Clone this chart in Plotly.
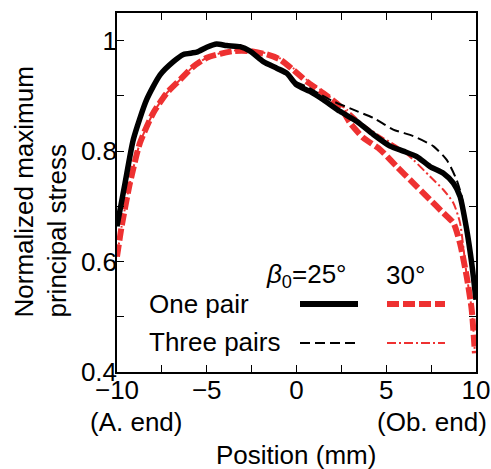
import plotly.graph_objects as go

# ---- data ----
x_one25 = [-10, -9.55, -9.09, -8.35, -7.6, -6.86, -6.3, -5.56, -5.0, -4.45, -3.89, -3.15, -2.59,
           -1.85, -1.1, -0.55, 0.0, 0.75, 1.49, 2.42, 3.35, 4.28, 5.21, 5.95, 6.7, 7.44, 8.18,
           8.74, 9.11, 9.48, 9.76, 10]
y_one25 = [0.664, 0.742, 0.821, 0.893, 0.938, 0.962, 0.975, 0.979, 0.988, 0.994, 0.991, 0.989, 0.981,
           0.962, 0.950, 0.941, 0.920, 0.908, 0.893, 0.872, 0.854, 0.830, 0.809, 0.800, 0.790, 0.772, 0.760,
           0.742, 0.718, 0.658, 0.597, 0.531]

x_three25 = [-10, -9.55, -9.09, -8.35, -7.6, -6.86, -6.3, -5.56, -5.0, -4.45, -3.89, -3.15, -2.59,
             -1.85, -1.1, -0.55, 0.0, 0.57, 1.3, 2.05, 3.16, 4.28, 5.39, 6.51, 7.62, 8.37, 8.92,
             9.2, 9.48, 9.76, 10]
y_three25 = [0.664, 0.742, 0.821, 0.893, 0.938, 0.962, 0.975, 0.979, 0.988, 0.994, 0.991, 0.989, 0.981,
             0.963, 0.952, 0.944, 0.925, 0.917, 0.903, 0.890, 0.875, 0.860, 0.839, 0.827, 0.809, 0.784, 0.748,
             0.718, 0.660, 0.598, 0.532]

x_one30 = [-10, -9.74, -9.28, -8.72, -7.98, -7.23, -6.49, -5.75, -5.0, -4.26, -3.52, -2.59, -1.66,
           -0.92, -0.18, 0.57, 1.49, 2.42, 2.98, 3.72, 4.65, 5.58, 6.51, 7.44, 8.18, 8.74, 9.11,
           9.48, 9.76, 9.94]
y_one30 = [0.609, 0.664, 0.742, 0.815, 0.869, 0.905, 0.929, 0.953, 0.969, 0.976, 0.981, 0.981, 0.975,
           0.966, 0.947, 0.926, 0.905, 0.881, 0.851, 0.824, 0.803, 0.772, 0.742, 0.712, 0.688, 0.670, 0.633,
           0.573, 0.513, 0.434]

x_three30 = [-10, -9.74, -9.28, -8.72, -7.98, -7.23, -6.49, -5.75, -5.0, -4.26, -3.52, -2.59, -1.66,
             -0.92, -0.18, 0.57, 1.49, 2.42, 2.8, 3.72, 4.65, 5.58, 6.51, 7.44, 8.18, 8.74, 9.11,
             9.48, 9.76, 9.94]
y_three30 = [0.609, 0.664, 0.742, 0.815, 0.869, 0.905, 0.929, 0.953, 0.969, 0.977, 0.982, 0.982, 0.977,
             0.968, 0.950, 0.929, 0.907, 0.884, 0.875, 0.848, 0.827, 0.809, 0.784, 0.754, 0.730, 0.706, 0.670,
             0.575, 0.514, 0.435]

x_tickvals = [-10, -5, 0, 5, 10]
x_ticktext = ["\u221210", "\u22125", "0", "5", "10"]
x_minor = [-7.5, -2.5, 2.5, 7.5]
y_tickvals = [0.4, 0.6, 0.8, 1.0]
y_ticktext = ["0.4", "0.6", "0.8", "1"]
y_minor = [0.5, 0.7, 0.9]

RED = "#EE3131"
FONT = "Liberation Sans, Arial, sans-serif"
FS = 26

fig = go.Figure()
fig.add_trace(go.Scatter(x=x_three30, y=y_three30, mode="lines",
                         line=dict(color=RED, width=2, dash="9px,3px,2px,3px", shape="spline", smoothing=0.6)))
fig.add_trace(go.Scatter(x=x_one30, y=y_one30, mode="lines",
                         line=dict(color=RED, width=6, dash="12px,4px", shape="spline", smoothing=0.6)))
fig.add_trace(go.Scatter(x=x_three25, y=y_three25, mode="lines",
                         line=dict(color="black", width=2, dash="10px,5px", shape="spline", smoothing=0.6)))
fig.add_trace(go.Scatter(x=x_one25, y=y_one25, mode="lines",
                         line=dict(color="black", width=5.5, shape="spline", smoothing=0.6)))

L, R, T, B = 117, 15, 13, 97
W, H = 491, 469
PW, PH = W - L - R, H - T - B


def px(xp):
    return (xp - L) / PW


def py(yp):
    return (H - B - yp) / PH


axis_common = dict(showgrid=False, zeroline=False, showline=True, linecolor="black", linewidth=1.5,
                   mirror="ticks", ticks="inside", ticklen=7, tickwidth=1.2, tickcolor="black",
                   automargin=False,
                   tickfont=dict(family=FONT, size=FS, color="black"))

fig.update_xaxes(range=[-10, 10], tickmode="array", tickvals=x_tickvals, ticktext=x_ticktext,
                 ticklabelstandoff=-6,
                 minor=dict(tickmode="array", tickvals=x_minor, ticks="inside", ticklen=7,
                            tickwidth=1.2, tickcolor="black"),
                 **axis_common)
fig.update_yaxes(range=[0.4, 1.05], tickmode="array", tickvals=y_tickvals, ticktext=y_ticktext,
                 ticklabelstandoff=-7,
                 minor=dict(tickmode="array", tickvals=y_minor, ticks="inside", ticklen=7,
                            tickwidth=1.2, tickcolor="black"),
                 **axis_common)

ann_font = dict(family=FONT, size=FS, color="black")
annotations = [
    dict(text="Normalized maximum<br>principal stress", textangle=-90, align="left",
         x=px(40), y=0.5, xanchor="center", yanchor="middle"),
    dict(text="(A. end)", x=px(136), y=py(422), xanchor="center", yanchor="middle"),
    dict(text="(Ob. end)", x=px(432), y=py(422), xanchor="center", yanchor="middle"),
    dict(text="Position (mm)", x=px(295.5), y=py(455), xanchor="center", yanchor="middle"),
    dict(text="<i>β</i><sub>0</sub>=25°", x=px(306), y=py(275), xanchor="center", yanchor="middle"),
    dict(text="30°", x=px(405), y=py(275), xanchor="center", yanchor="middle"),
    dict(text="One pair", x=px(147), y=py(304), xanchor="left", yanchor="middle"),
    dict(text="Three pairs", x=px(147), y=py(342), xanchor="left", yanchor="middle"),
]
for a in annotations:
    a.update(xref="paper", yref="paper", showarrow=False, font=ann_font)

shapes = [
    dict(x0=px(300), x1=px(358), y0=py(304), y1=py(304), line=dict(color="black", width=6)),
    dict(x0=px(387), x1=px(445), y0=py(304), y1=py(304), line=dict(color=RED, width=6, dash="12px,4px")),
    dict(x0=px(300), x1=px(358), y0=py(343), y1=py(343), line=dict(color="black", width=2, dash="10px,5px")),
    dict(x0=px(387), x1=px(445), y0=py(343), y1=py(343), line=dict(color=RED, width=2, dash="9px,3px,2px,3px")),
]
for s in shapes:
    s.update(type="line", xref="paper", yref="paper")

fig.update_layout(width=W, height=H, margin=dict(l=L, r=R, t=T, b=B, autoexpand=False),
                  paper_bgcolor="white", plot_bgcolor="white", showlegend=False,
                  annotations=annotations, shapes=shapes,
                  font=dict(family=FONT, size=FS, color="black"))

fig.write_html("out.html", config={"displayModeBar": False},
               post_script="document.body.style.margin='0px';document.body.style.overflow='hidden';")
